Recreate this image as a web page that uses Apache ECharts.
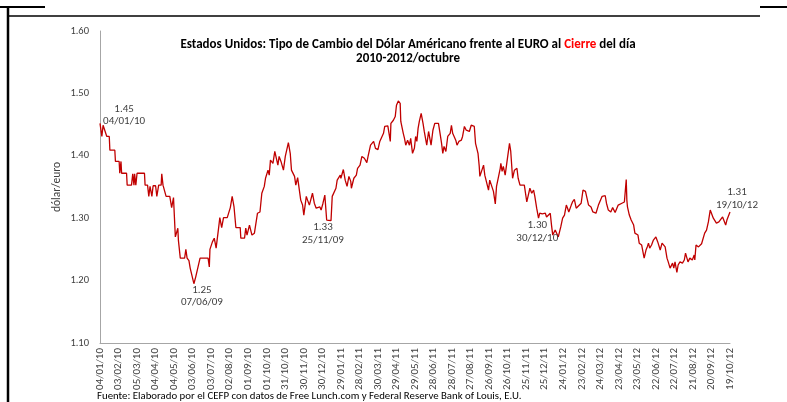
<!DOCTYPE html>
<html>
<head>
<meta charset="utf-8">
<script src="https://cdn.jsdelivr.net/npm/echarts@6/dist/echarts.min.js"></script>
<style>
html,body{margin:0;padding:0;background:#fff;}
#c{width:787px;height:402px;}
</style>
</head>
<body>
<div id="c"></div>
<script>
// Tick labels of the x axis (every 30 days from 04/01/10)
var tickLabels = ['04/01/10','03/02/10','05/03/10','04/04/10','04/05/10','03/06/10','03/07/10','02/08/10','01/09/10','01/10/10','31/10/10','30/11/10','30/12/10','29/01/11','28/02/11','30/03/11','29/04/11','29/05/11','28/06/11','28/07/11','27/08/11','26/09/11','26/10/11','25/11/11','25/12/11','24/01/12','23/02/12','24/03/12','23/04/12','23/05/12','22/06/12','22/07/12','21/08/12','20/09/12','19/10/12'];
var yTicks = [1.10, 1.20, 1.30, 1.40, 1.50, 1.60];

// Days since 04/01/10
var days = [
0,3,5,8,11,15,16,24,25,31,32,34,35,43,44,51,53,55,56,58,60,72,73,77,79,81,84,86,90,92,95,99,100,102,105,107,113,116,119,122,126,127,130,137,139,141,144,146,149,152,155,158,162,175,177,178,182,185,188,192,194,197,200,206,211,
214,217,220,227,228,234,236,238,242,246,250,255,259,262,266,268,272,274,276,280,283,288,290,293,297,300,305,308,310,315,317,320,322,325,328,330,334,336,339,344,347,350,356,358,361,364,367,374,376,379,382,384,389,390,394,397,400,403,406,407,411,415,417,
419,421,424,428,432,434,436,438,443,446,450,453,456,459,461,466,470,471,475,478,480,483,486,487,491,493,495,498,501,503,506,509,511,513,515,517,520,523,525,527,529,532,534,536,539,542,548,551,553,555,557,560,563,567,569,571,574,576,578,581,585,587,590,593,595,598,601,604,606,608,612,614,615,618,621,623,
629,631,634,637,640,642,645,648,649,651,653,656,659,661,663,665,668,671,675,677,680,687,691,693,696,699,702,704,707,710,712,716,721,723,729,731,733,737,739,742,746,749,752,755,757,759,763,765,768,771,774,779,782,786,791,795,798,803,807,810,813,818,820,823,827,830,834,
839,842,845,849,850,852,853,854,857,860,864,866,869,871,873,877,881,884,886,888,890,893,896,900,903,907,910,913,915,918,920,923,927,929,931,934,936,939,943,946,948,952,955,959,962,963,965,969,974,977,979,982,985,988,990,993,996,998,1002,1005,1008,1011,1013,1015,1017,1020
];
// Closing rate (dollars per euro)
var rates = [
1.452,1.431,1.449,1.452,1.431,1.431,1.409,1.409,1.391,1.391,1.372,1.391,1.372,1.372,1.353,1.353,1.371,1.353,1.371,1.353,1.372,1.372,1.353,1.353,1.335,1.351,1.335,1.352,1.352,1.335,1.353,1.353,1.371,1.353,1.353,1.335,1.335,1.317,1.333,1.270,1.284,1.264,1.236,1.236,1.250,1.236,1.232,1.220,1.220,1.195,1.206,1.209,1.236,1.236,1.222,1.250,1.262,1.268,1.252,1.284,1.301,1.285,1.301,1.301,1.317,
1.335,1.318,1.285,1.285,1.268,1.268,1.284,1.273,1.289,1.273,1.276,1.308,1.310,1.340,1.351,1.364,1.377,1.369,1.393,1.388,1.407,1.385,1.399,1.391,1.377,1.399,1.421,1.404,1.377,1.367,1.353,1.365,1.364,1.329,1.321,1.305,1.335,1.329,1.321,1.340,1.324,1.316,1.318,1.313,1.324,1.337,1.297,1.296,1.335,1.337,1.348,1.361,1.369,1.364,1.378,1.361,1.351,1.367,1.359,1.348,1.364,1.369,1.380,
1.378,1.385,1.399,1.396,1.389,1.399,1.396,1.417,1.423,1.412,1.410,1.423,1.425,1.436,1.447,1.448,1.423,1.452,1.457,1.463,1.481,1.488,1.484,1.455,1.436,1.428,1.417,1.425,1.417,1.428,1.404,1.412,1.431,1.423,1.444,1.455,1.468,1.452,1.439,1.437,1.417,1.439,1.428,1.417,1.441,1.452,1.452,1.433,1.420,1.404,1.415,1.407,1.431,1.436,1.449,1.436,1.439,1.425,1.417,1.423,1.425,1.431,1.447,1.441,1.444,1.439,1.449,1.452,1.447,1.420,1.404,1.383,1.367,1.367,1.385,1.369,
1.345,1.361,1.364,1.343,1.323,1.351,1.353,1.380,1.388,1.375,1.383,1.369,1.391,1.393,1.420,1.407,1.364,1.377,1.380,1.364,1.353,1.353,1.326,1.335,1.348,1.340,1.345,1.335,1.316,1.300,1.308,1.307,1.308,1.302,1.308,1.289,1.273,1.281,1.284,1.270,1.286,1.300,1.305,1.321,1.316,1.310,1.321,1.326,1.330,1.316,1.318,1.324,1.345,1.343,1.321,1.318,1.310,1.308,1.321,1.324,1.335,1.336,1.324,1.313,1.310,1.317,1.309,
1.321,1.318,1.324,1.326,1.329,1.362,1.329,1.318,1.305,1.297,1.289,1.276,1.277,1.273,1.260,1.257,1.236,1.249,1.254,1.260,1.252,1.257,1.265,1.270,1.262,1.249,1.260,1.262,1.254,1.236,1.230,1.220,1.228,1.220,1.230,1.213,1.225,1.230,1.228,1.233,1.244,1.230,1.236,1.233,1.241,1.233,1.257,1.254,1.259,1.260,1.276,1.281,1.294,1.313,1.313,1.300,1.302,1.292,1.294,1.292,1.302,1.304,1.289,1.297,1.300,1.310
];

// Annotation texts and the data-space point where each text block is anchored
var noteTexts = ['1.45\n04/01/10','1.25\n07/06/09','1.33\n25/11/09','1.30\n30/12/10','1.31\n19/10/12'];
var noteDays  = [39, 165, 361, 708, 1020];
var noteRates = [1.465, 1.175, 1.275, 1.278, 1.331];
var noteShift = [0, 0, 0, 0, 7];

var FONT = 'Carlito, "Liberation Sans", Arial, sans-serif';
var n = Math.min(days.length, rates.length);
var lineData = [];
for (var i = 0; i < n; i++) lineData.push([days[i], rates[i]]);

var notes = noteTexts.map(function (t, k) {
  return {coord: [noteDays[k], noteRates[k]], value: t, label: {offset: [noteShift[k], 0]}};
});

var chart = echarts.init(document.getElementById('c'), null, {renderer: 'canvas'});
chart.setOption({
  animation: false,
  backgroundColor: '#ffffff',
  title: {
    left: 403, top: 33, textAlign: 'center',
    text: '{a|Estados Unidos: Tipo de Cambio del Dólar Américano frente al EURO al }{r|Cierre}{a| del día}\n{a|2010-2012/octubre}',
    textStyle: {
      rich: {
        a: {fontFamily: FONT, fontSize: 13, fontWeight: 'bold', color: '#000', lineHeight: 14},
        r: {fontFamily: FONT, fontSize: 13, fontWeight: 'bold', color: '#ff0000', lineHeight: 14}
      }
    }
  },
  grid: {left: 100, right: 57, top: 31, bottom: 59, containLabel: false},
  xAxis: {
    type: 'value', min: 0, max: 1020, interval: 30,
    axisLine: {show: true, lineStyle: {color: '#a6a6a6', width: 1}},
    axisTick: {show: false},
    splitLine: {show: false},
    axisLabel: {
      rotate: 90, margin: 5, fontSize: 11, fontFamily: FONT, color: '#404040',
      formatter: function (v) { var k = Math.round(v / 30); return tickLabels[k] || ''; }
    }
  },
  yAxis: {
    type: 'value', min: yTicks[0], max: yTicks[yTicks.length - 1], interval: 0.1,
    name: 'dólar/euro', nameLocation: 'middle', nameGap: 37, nameRotate: 90,
    nameMoveOverlap: false,
    nameTextStyle: {fontSize: 11.5, fontFamily: FONT, color: '#404040'},
    axisLine: {show: true, lineStyle: {color: '#a6a6a6', width: 1}},
    axisTick: {show: false},
    splitLine: {show: false},
    axisLabel: {margin: 11, fontSize: 10.5, fontFamily: FONT, color: '#404040',
      formatter: function (v) { return v.toFixed(2); }}
  },
  series: [{
    type: 'line',
    data: lineData,
    showSymbol: false,
    symbol: 'none',
    lineStyle: {color: '#c00000', width: 1.3},
    itemStyle: {color: '#c00000'},
    markPoint: {
      symbol: 'circle', symbolSize: 0, silent: true,
      label: {show: true, position: 'inside', formatter: function (p) { return p.value; },
        fontFamily: FONT, fontSize: 11, color: '#404040', lineHeight: 12.5, align: 'center'},
      data: notes
    }
  }],
  graphic: [
    {type: 'line', shape: {x1: 0, y1: 7, x2: 45, y2: 7}, style: {stroke: '#000', lineWidth: 2}},
    {type: 'line', shape: {x1: 760, y1: 7, x2: 787, y2: 7}, style: {stroke: '#000', lineWidth: 2}},
    {type: 'line', shape: {x1: 8, y1: 16, x2: 760, y2: 16}, style: {stroke: '#000', lineWidth: 1.5}},
    {type: 'line', shape: {x1: 8, y1: 7, x2: 8, y2: 402}, style: {stroke: '#000', lineWidth: 2.5}},
    {type: 'text', left: 97, top: 391,
      style: {text: 'Fuente: Elaborado por el CEFP con datos de Free Lunch.com y Federal Reserve Bank of Louis, E.U.',
        font: '10.8px ' + FONT, fill: '#000'}}
  ]
});
</script>
</body>
</html>
